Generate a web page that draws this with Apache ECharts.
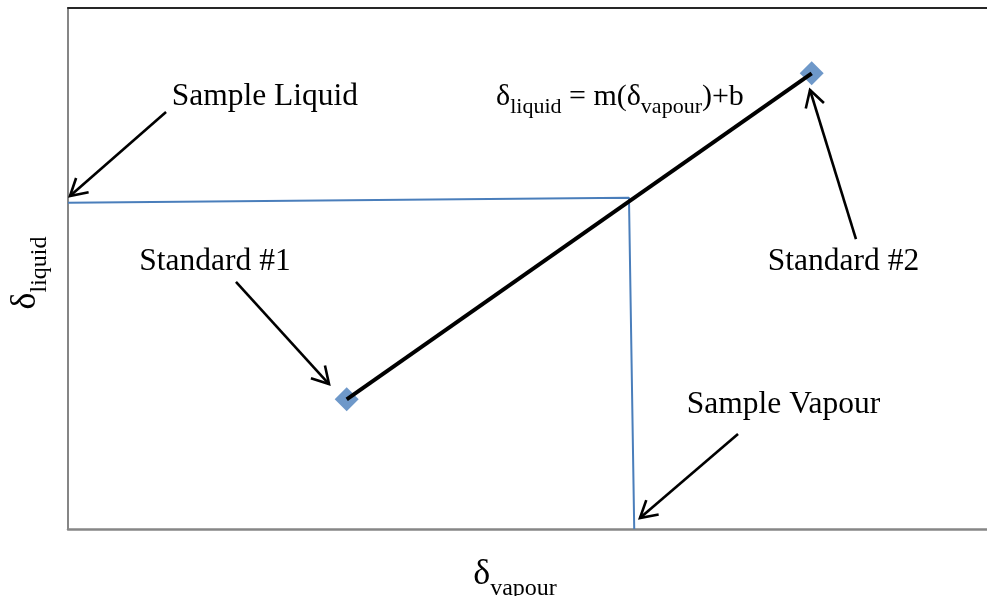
<!DOCTYPE html>
<html>
<head>
<meta charset="utf-8">
<script src="https://cdn.jsdelivr.net/npm/echarts@6/dist/echarts.min.js"></script>
<style>
html,body{margin:0;padding:0;background:#fff;}
#chart{width:987px;height:596px;}
</style>
</head>
<body>
<div id="chart"></div>
<script>
// Calibration standards (relative units, axes unlabelled)
const standardX = [29.65, 79.12];
const standardY = [24.89, 87.47];

// Sample guide line: from y-axis (sample liquid) to the fit line, then down to x-axis (sample vapour)
const guideX = [0, 59.68, 60.24];
const guideY = [62.6, 63.59, 0];

// Annotation arrows (from -> tip)
const arrowFromX = [10.43, 17.87, 83.83, 71.28];
const arrowFromY = [80.04, 47.41, 55.66, 18.23];
const arrowToX   = [0.21, 27.77, 78.94, 60.85];
const arrowToY   = [63.92, 27.83, 84.26, 2.11];

// Annotation labels
const labelText = ['Sample Liquid', 'Standard #1', 'Standard #2', 'Sample Vapour',
                   '{d|δ}{s|liquid}{n| = m(}{d|δ}{s|vapour}{n|)+b}'];
const labelX = [20.95, 15.64, 82.50, 76.12, 58.72];
const labelY = [83.01, 51.34, 51.34, 23.80, 82.30];

// Visible portion of the x-axis (right edge of the plot is cut by the picture)
const xMin = 0, xMax = 97.77, yMin = 0, yMax = 100;

const FONT = "'Liberation Serif', 'Times New Roman', serif";

const chart = echarts.init(document.getElementById('chart'));

const arrowData = arrowFromX.map((x, i) => [x, arrowFromY[i], arrowToX[i], arrowToY[i]]);
const labelData = labelX.map((x, i) => [x, labelY[i]]);

const eqRich = {
  d: {fontSize: 30, fontFamily: FONT, color: '#000', verticalAlign: 'bottom', padding: [0, 0, 7, 0]},
  n: {fontSize: 30, fontFamily: FONT, color: '#000', verticalAlign: 'bottom', padding: [0, 0, 7, 0]},
  s: {fontSize: 22, fontFamily: FONT, color: '#000', verticalAlign: 'bottom'}
};
const titleRich = {
  d: {fontSize: 36, fontFamily: FONT, color: '#000', verticalAlign: 'bottom', padding: [0, 0, 8, 0]},
  s: {fontSize: 24, fontFamily: FONT, color: '#000', verticalAlign: 'bottom'}
};

function hiddenAxis(min, max) {
  return {
    type: 'value', min: min, max: max,
    axisTick: {show: false}, axisLabel: {show: false}, splitLine: {show: false}
  };
}

chart.setOption({
  animation: false,
  backgroundColor: '#fff',
  grid: {left: 68, top: 8, right: 0, height: 521, containLabel: false},
  xAxis: [
    Object.assign(hiddenAxis(xMin, xMax), {position: 'bottom',
      axisLine: {show: true, onZero: false, lineStyle: {color: '#868686', width: 2.5}}}),
    Object.assign(hiddenAxis(xMin, xMax), {position: 'top',
      axisLine: {show: true, onZero: false, lineStyle: {color: '#262626', width: 2}}})
  ],
  yAxis: [
    Object.assign(hiddenAxis(yMin, yMax), {position: 'left',
      axisLine: {show: true, onZero: false, lineStyle: {color: '#868686', width: 2}}})
  ],
  graphic: [
    {type: 'text', x: 515, y: 579, style: {text: '{d|δ}{s|vapour}', rich: titleRich, align: 'center', verticalAlign: 'middle'}},
    {type: 'text', x: 30, y: 273, rotation: Math.PI / 2, style: {text: '{d|δ}{s|liquid}', rich: titleRich, align: 'center', verticalAlign: 'middle'}}
  ],
  series: [
    {
      type: 'line', data: guideX.map((x, i) => [x, guideY[i]]),
      symbol: 'none', lineStyle: {color: '#4A7EBB', width: 2}, z: 2, silent: true
    },
    {
      type: 'scatter', data: standardX.map((x, i) => [x, standardY[i]]),
      symbol: 'diamond', symbolSize: 24, itemStyle: {color: '#4A7EBB'}, z: 3, silent: true
    },
    {
      type: 'line', data: standardX.map((x, i) => [x, standardY[i]]),
      symbol: 'none', lineStyle: {color: '#000', width: 4}, z: 4, silent: true
    },
    {
      type: 'custom', data: arrowData, z: 5, clip: false, silent: true,
      encode: {x: [0, 2], y: [1, 3]},
      renderItem: function (params, api) {
        const p0 = api.coord([api.value(0), api.value(1)]);
        const p1 = api.coord([api.value(2), api.value(3)]);
        const ang = Math.atan2(p1[1] - p0[1], p1[0] - p0[0]);
        const L = 19, a = Math.PI / 6;
        const h1 = [p1[0] - L * Math.cos(ang - a), p1[1] - L * Math.sin(ang - a)];
        const h2 = [p1[0] - L * Math.cos(ang + a), p1[1] - L * Math.sin(ang + a)];
        return {
          type: 'group',
          children: [
            {type: 'line', shape: {x1: p0[0], y1: p0[1], x2: p1[0], y2: p1[1]},
             style: {stroke: '#000', lineWidth: 2.6}},
            {type: 'polyline', shape: {points: [h1, p1, h2]},
             style: {stroke: '#000', lineWidth: 2.6, fill: null, lineJoin: 'miter'}}
          ]
        };
      }
    },
    {
      type: 'custom', data: labelData, z: 6, clip: false, silent: true,
      renderItem: function (params, api) {
        const p = api.coord([api.value(0), api.value(1)]);
        const txt = labelText[params.dataIndex];
        const isRich = txt.indexOf('{') === 0;
        return {
          type: 'text', x: p[0], y: p[1],
          style: isRich ? {text: txt, rich: eqRich, align: 'center', verticalAlign: 'middle'}
                        : {text: txt, fontSize: 31.5, fontFamily: FONT, fill: '#000', align: 'center', verticalAlign: 'middle'}
        };
      }
    }
  ]
});
</script>
</body>
</html>
